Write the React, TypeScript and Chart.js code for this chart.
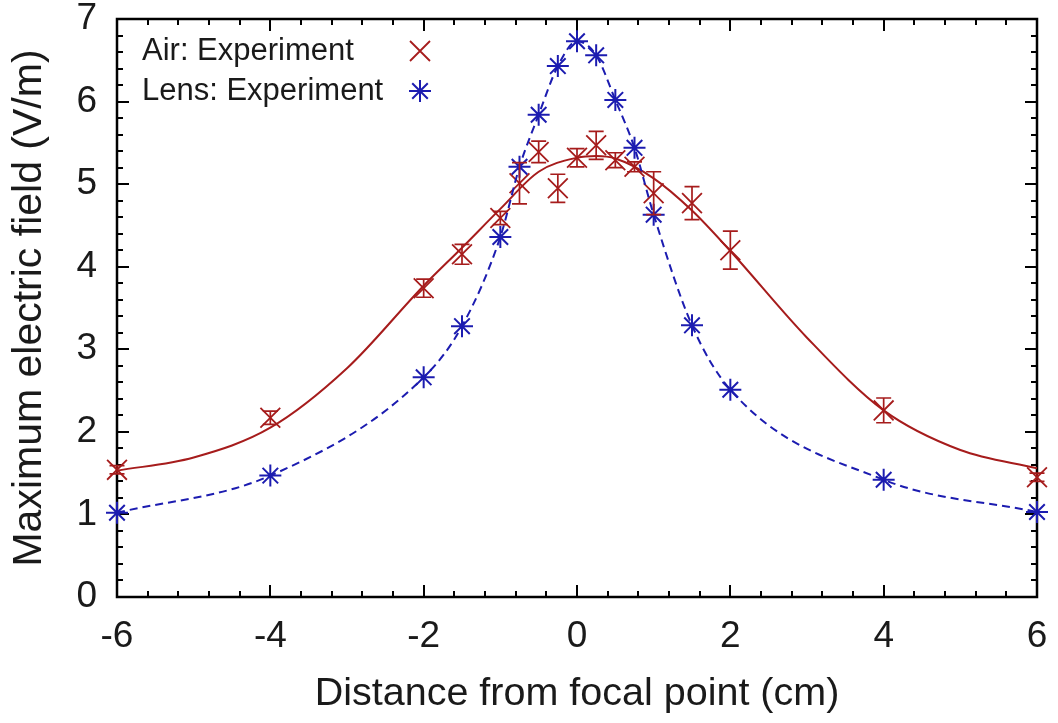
import React, { useEffect, useRef } from 'react';
import { Chart, registerables } from 'chart.js';

Chart.register(...registerables);

// ---- data ----
const airX = [-6, -4, -2, -1.5, -1, -0.75, -0.5, -0.25, 0, 0.25, 0.5, 0.75, 1, 1.5, 2, 4, 6];
const airY = [1.54, 2.17, 3.74, 4.15, 4.59, 5.01, 5.39, 4.95, 5.32, 5.47, 5.29, 5.21, 4.89, 4.77, 4.2, 2.26, 1.45];
const airErr = [0.05, 0.08, 0.11, 0.12, 0.08, 0.25, 0.13, 0.17, 0.11, 0.17, 0.09, 0.06, 0.26, 0.2, 0.23, 0.15, 0.05];

const airFitX = [-6, -5, -4, -3, -2, -1.5, -1, -0.5, 0, 0.25, 0.5, 1, 1.5, 2, 3, 4, 5, 6];
const airFitY = [1.53, 1.69, 2.05, 2.77, 3.77, 4.23, 4.7, 5.15, 5.32, 5.34, 5.31, 5.07, 4.68, 4.19, 3.14, 2.26, 1.78, 1.56];

const lensX = [-6, -4, -2, -1.5, -1, -0.75, -0.5, -0.25, 0, 0.25, 0.5, 0.75, 1, 1.5, 2, 4, 6];
const lensY = [1.02, 1.47, 2.66, 3.28, 4.36, 5.21, 5.84, 6.43, 6.73, 6.56, 6.02, 5.44, 4.63, 3.29, 2.51, 1.42, 1.03];

const legendLabels = ['Air: Experiment', 'Lens: Experiment'];
const xTitle = 'Distance from focal point (cm)';
const yTitle = 'Maximum electric field (V/m)';

const RED = '#a61c1c';
const BLUE = '#1c1cb0';
const INK = '#1a1a1a';
const FONT = '"Liberation Sans", Arial, Helvetica, sans-serif';

const toPts = (xs: number[], ys: number[]) => xs.map((x, i) => ({ x, y: ys[i] }));

const framePlugin = {
  id: 'frameTicks',
  beforeDatasetsDraw(chart: any) {
    const { ctx, chartArea, scales } = chart;
    const { left, right, top, bottom } = chartArea;
    const xs = scales.x;
    const ys = scales.y;
    ctx.save();
    ctx.strokeStyle = '#000';
    ctx.lineWidth = 2;
    ctx.beginPath();
    for (let i = 0; i <= 30; i++) {
      const v = -6 + i * 0.4;
      const px = Math.round(xs.getPixelForValue(v));
      const len = i % 5 === 0 ? 12 : 6;
      ctx.moveTo(px, bottom);
      ctx.lineTo(px, bottom - len);
      ctx.moveTo(px, top);
      ctx.lineTo(px, top + len);
    }
    for (let i = 0; i <= 35; i++) {
      const v = i * 0.2;
      const py = Math.round(ys.getPixelForValue(v));
      const len = i % 5 === 0 ? 12 : 6;
      ctx.moveTo(left, py);
      ctx.lineTo(left + len, py);
      ctx.moveTo(right, py);
      ctx.lineTo(right - len, py);
    }
    ctx.stroke();
    ctx.lineWidth = 2.5;
    ctx.strokeRect(left, top, right - left, bottom - top);
    ctx.restore();
  },
};

const errorBarPlugin = {
  id: 'errorBars',
  afterDatasetsDraw(chart: any) {
    const { ctx, scales } = chart;
    const xs = scales.x;
    const ys = scales.y;
    ctx.save();
    ctx.strokeStyle = RED;
    ctx.lineWidth = 1.7;
    ctx.beginPath();
    airX.forEach((xv, i) => {
      const px = xs.getPixelForValue(xv);
      const y1 = ys.getPixelForValue(airY[i] + airErr[i]);
      const y2 = ys.getPixelForValue(airY[i] - airErr[i]);
      ctx.moveTo(px, y1);
      ctx.lineTo(px, y2);
      ctx.moveTo(px - 7.5, y1);
      ctx.lineTo(px + 7.5, y1);
      ctx.moveTo(px - 7.5, y2);
      ctx.lineTo(px + 7.5, y2);
    });
    ctx.stroke();
    ctx.restore();
  },
};

const legendPlugin = {
  id: 'insideLegend',
  afterDraw(chart: any) {
    const { ctx, chartArea } = chart;
    const tx = chartArea.left + 25;
    const mx = chartArea.left + 303;
    const rows = [chartArea.top + 32, chartArea.top + 72];
    ctx.save();
    ctx.fillStyle = INK;
    ctx.font = `31px ${FONT}`;
    ctx.textAlign = 'left';
    ctx.textBaseline = 'middle';
    ctx.fillText(legendLabels[0], tx, rows[0]);
    ctx.fillText(legendLabels[1], tx, rows[1]);
    // X marker
    ctx.lineWidth = 1.8;
    ctx.strokeStyle = RED;
    ctx.beginPath();
    const h = 10;
    ctx.moveTo(mx - h, rows[0] - h);
    ctx.lineTo(mx + h, rows[0] + h);
    ctx.moveTo(mx - h, rows[0] + h);
    ctx.lineTo(mx + h, rows[0] - h);
    ctx.stroke();
    // star marker
    ctx.strokeStyle = BLUE;
    ctx.lineWidth = 2;
    ctx.beginPath();
    const r = 11;
    const d = r * Math.SQRT1_2;
    const cy = rows[1];
    ctx.moveTo(mx - r, cy);
    ctx.lineTo(mx + r, cy);
    ctx.moveTo(mx, cy - r);
    ctx.lineTo(mx, cy + r);
    ctx.moveTo(mx - d, cy - d);
    ctx.lineTo(mx + d, cy + d);
    ctx.moveTo(mx - d, cy + d);
    ctx.lineTo(mx + d, cy - d);
    ctx.stroke();
    ctx.restore();
  },
};

export default function App() {
  const ref = useRef<HTMLCanvasElement>(null);
  useEffect(() => {
    document.body.style.margin = '0';
    const chart = new Chart(ref.current as HTMLCanvasElement, {
      type: 'scatter',
      data: {
        datasets: [
          {
            label: 'Lens fit',
            data: toPts(lensX, lensY),
            showLine: true,
            borderColor: BLUE,
            backgroundColor: BLUE,
            borderWidth: 2,
            borderDash: [8, 5],
            cubicInterpolationMode: 'monotone',
            pointStyle: 'star',
            pointRadius: 11,
            pointBorderWidth: 2,
            pointBorderColor: BLUE,
            clip: false,
            order: 0,
          } as any,
          {
            label: legendLabels[0],
            data: toPts(airX, airY),
            showLine: false,
            borderColor: RED,
            backgroundColor: RED,
            pointStyle: 'crossRot',
            pointRadius: 14,
            pointBorderWidth: 1.8,
            clip: false,
            order: 1,
          } as any,
          {
            label: 'Air fit',
            data: toPts(airFitX, airFitY),
            showLine: true,
            borderColor: RED,
            borderWidth: 2,
            pointRadius: 0,
            cubicInterpolationMode: 'monotone',
            clip: false,
            order: 2,
          } as any,
        ],
      },
      options: {
        responsive: false,
        animation: false,
        events: [],
        layout: { padding: { top: 19, right: 21, left: 0, bottom: 0 } },
        plugins: {
          legend: { display: false },
          tooltip: { enabled: false },
        },
        scales: {
          x: {
            type: 'linear',
            min: -6,
            max: 6,
            grid: { display: false, drawTicks: false },
            border: { display: false },
            ticks: {
              stepSize: 2,
              color: INK,
              padding: 18,
              maxRotation: 0,
              font: { family: FONT, size: 37 },
            },
            title: {
              display: true,
              text: xTitle,
              color: INK,
              font: { family: FONT, size: 39.5 },
              padding: { top: 0, bottom: 5 },
            },
            afterFit(scale: any) {
              scale.height = 126;
              scale.paddingLeft = 0;
              scale.paddingRight = 0;
            },
          },
          y: {
            type: 'linear',
            min: 0,
            max: 7,
            grid: { display: false, drawTicks: false },
            border: { display: false },
            ticks: {
              stepSize: 1,
              color: INK,
              padding: 20,
              font: { family: FONT, size: 37 },
            },
            title: {
              display: true,
              text: yTitle,
              color: INK,
              font: { family: FONT, size: 41 },
              padding: { top: 5, bottom: 0 },
            },
            afterFit(scale: any) {
              scale.width = 117;
              scale.paddingTop = 0;
              scale.paddingBottom = 0;
            },
          },
        },
      } as any,
      plugins: [framePlugin, errorBarPlugin, legendPlugin],
    });
    return () => chart.destroy();
  }, []);
  return <canvas ref={ref} width={1058} height={723} style={{ display: 'block' }} />;
}
